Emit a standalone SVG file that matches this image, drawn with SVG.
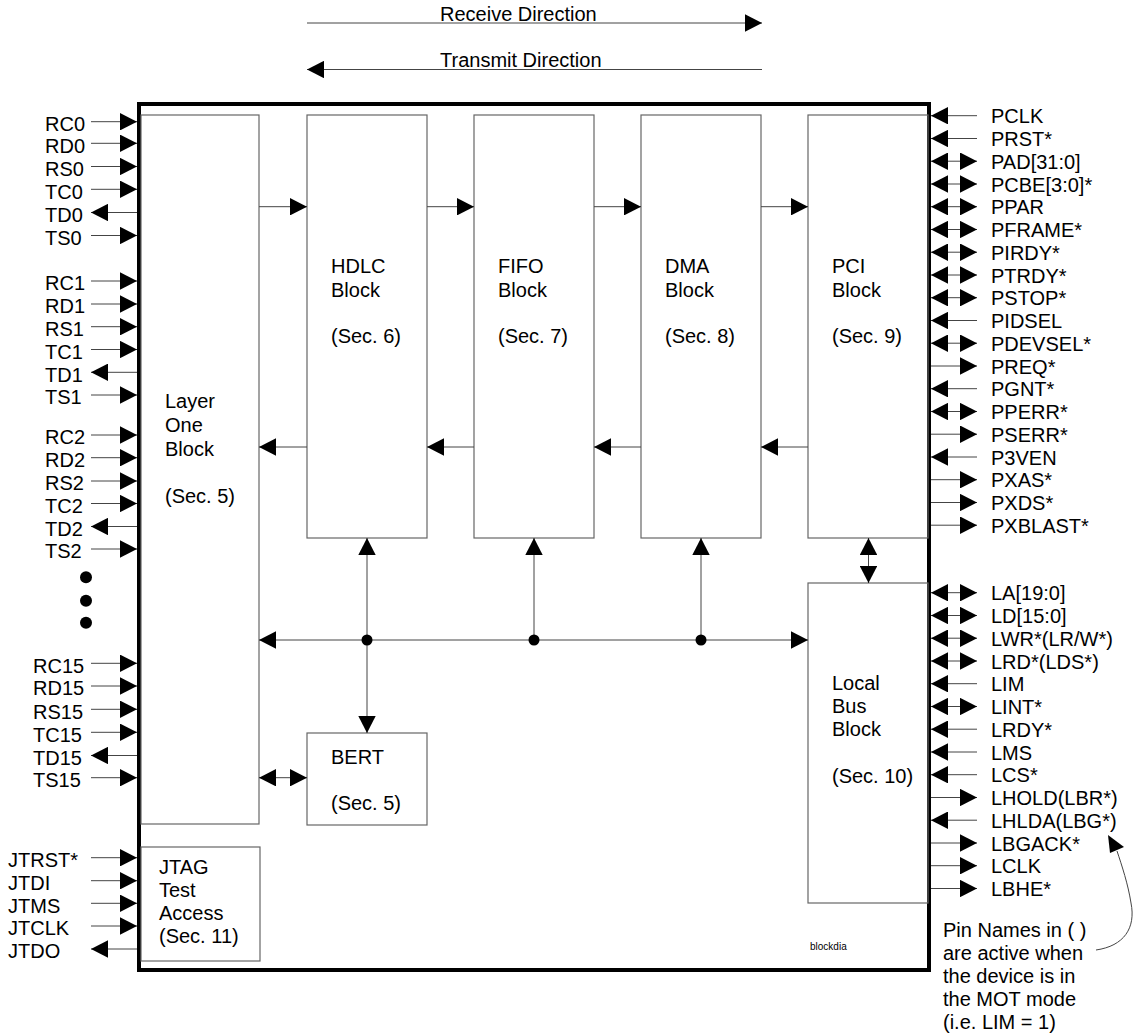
<svg xmlns="http://www.w3.org/2000/svg" width="1133" height="1034" viewBox="0 0 1133 1034">
<style>
.t{font-family:"Liberation Sans",Arial,Helvetica,sans-serif;font-size:20px;fill:#000}
.s{font-family:"Liberation Sans",Arial,sans-serif;font-size:10px;fill:#000}
.c{stroke:#444;stroke-width:1;fill:none}
.b{stroke:#666;stroke-width:1.2;fill:none}
.ma{marker-end:url(#a)}
.bi{marker-start:url(#a);marker-end:url(#a)}
</style>
<defs>
<marker id="a" markerUnits="userSpaceOnUse" markerWidth="17" markerHeight="17.4" refX="17" refY="8.7" orient="auto-start-reverse" viewBox="0 0 17 17.4"><path d="M0,0L17,8.7L0,17.4z" fill="#000"/></marker>
</defs>
<rect width="1133" height="1034" fill="#fff"/>

<g id="direction-legend">
<line class="c ma" x1="307" y1="23" x2="762" y2="23"/>
<text class="t" x="440" y="21">Receive Direction</text>
<line class="c ma" x1="762" y1="69.5" x2="307" y2="69.5"/>
<text class="t" x="440" y="67">Transmit Direction</text>
</g>

<g id="chip">
<rect x="139" y="104" width="790" height="866" fill="none" stroke="#000" stroke-width="4"/>
<text class="s" x="810" y="950">blockdia</text>
</g>

<g id="layer-one">
<rect class="b" x="141" y="115" width="118" height="709"/>
<text class="t" x="165" y="408">Layer</text>
<text class="t" x="165" y="432">One</text>
<text class="t" x="165" y="456">Block</text>
<text class="t" x="165" y="503">(Sec. 5)</text>
</g>
<g id="hdlc">
<rect class="b" x="307" y="115" width="120" height="423"/>
<text class="t" x="331" y="273">HDLC</text>
<text class="t" x="331" y="297">Block</text>
<text class="t" x="331" y="343">(Sec. 6)</text>
</g>
<g id="fifo">
<rect class="b" x="474" y="115" width="120" height="423"/>
<text class="t" x="498" y="273">FIFO</text>
<text class="t" x="498" y="297">Block</text>
<text class="t" x="498" y="343">(Sec. 7)</text>
</g>
<g id="dma">
<rect class="b" x="641" y="115" width="120" height="423"/>
<text class="t" x="665" y="273">DMA</text>
<text class="t" x="665" y="297">Block</text>
<text class="t" x="665" y="343">(Sec. 8)</text>
</g>
<g id="pci">
<rect class="b" x="808" y="115" width="120" height="423"/>
<text class="t" x="832" y="273">PCI</text>
<text class="t" x="832" y="297">Block</text>
<text class="t" x="832" y="343">(Sec. 9)</text>
</g>
<g id="local-bus">
<rect class="b" x="808" y="583" width="120" height="320"/>
<text class="t" x="832" y="690">Local</text>
<text class="t" x="832" y="713">Bus</text>
<text class="t" x="832" y="736">Block</text>
<text class="t" x="832" y="783">(Sec. 10)</text>
</g>
<g id="bert">
<rect class="b" x="307" y="733" width="120" height="92"/>
<text class="t" x="331" y="764">BERT</text>
<text class="t" x="331" y="810">(Sec. 5)</text>
</g>
<g id="jtag">
<rect class="b" x="141" y="847" width="119" height="114"/>
<text class="t" x="159" y="874">JTAG</text>
<text class="t" x="159" y="897">Test</text>
<text class="t" x="159" y="920">Access</text>
<text class="t" x="159" y="943">(Sec. 11)</text>
</g>

<g id="connectors">
<line class="c ma" x1="259" y1="206.7" x2="307" y2="206.7"/>
<line class="c ma" x1="427" y1="206.7" x2="474" y2="206.7"/>
<line class="c ma" x1="594" y1="206.7" x2="641" y2="206.7"/>
<line class="c ma" x1="761" y1="206.7" x2="808" y2="206.7"/>
<line class="c ma" x1="307" y1="447" x2="259" y2="447"/>
<line class="c ma" x1="474" y1="447" x2="427" y2="447"/>
<line class="c ma" x1="641" y1="447" x2="594" y2="447"/>
<line class="c ma" x1="808" y1="447" x2="761" y2="447"/>
<line class="c bi" x1="259" y1="640" x2="808" y2="640"/>
<line class="c bi" x1="367" y1="538" x2="367" y2="733"/>
<line class="c ma" x1="534" y1="640" x2="534" y2="538"/>
<line class="c ma" x1="701" y1="640" x2="701" y2="538"/>
<circle cx="367" cy="640" r="5.5"/>
<circle cx="534" cy="640" r="5.5"/>
<circle cx="701" cy="640" r="5.5"/>
<line class="c bi" x1="868.5" y1="538" x2="868.5" y2="583"/>
<line class="c bi" x1="259" y1="777.7" x2="307" y2="777.7"/>

<!-- left pins -->
<line class="c ma" x1="91" y1="121.7" x2="137" y2="121.7"/>
<line class="c ma" x1="91" y1="143.3" x2="137" y2="143.3"/>
<line class="c ma" x1="91" y1="166.5" x2="137" y2="166.5"/>
<line class="c ma" x1="91" y1="189.3" x2="137" y2="189.3"/>
<line class="c ma" x1="137" y1="212.5" x2="91" y2="212.5"/>
<line class="c ma" x1="91" y1="235.5" x2="137" y2="235.5"/>
<line class="c ma" x1="91" y1="281" x2="137" y2="281"/>
<line class="c ma" x1="91" y1="304" x2="137" y2="304"/>
<line class="c ma" x1="91" y1="326.7" x2="137" y2="326.7"/>
<line class="c ma" x1="91" y1="349.5" x2="137" y2="349.5"/>
<line class="c ma" x1="137" y1="372.3" x2="91" y2="372.3"/>
<line class="c ma" x1="91" y1="395" x2="137" y2="395"/>
<line class="c ma" x1="91" y1="435" x2="137" y2="435"/>
<line class="c ma" x1="91" y1="457.7" x2="137" y2="457.7"/>
<line class="c ma" x1="91" y1="481" x2="137" y2="481"/>
<line class="c ma" x1="91" y1="503.5" x2="137" y2="503.5"/>
<line class="c ma" x1="137" y1="526.5" x2="91" y2="526.5"/>
<line class="c ma" x1="91" y1="549" x2="137" y2="549"/>
<line class="c ma" x1="91" y1="663.3" x2="137" y2="663.3"/>
<line class="c ma" x1="91" y1="686" x2="137" y2="686"/>
<line class="c ma" x1="91" y1="709.3" x2="137" y2="709.3"/>
<line class="c ma" x1="91" y1="732.3" x2="137" y2="732.3"/>
<line class="c ma" x1="137" y1="755.5" x2="91" y2="755.5"/>
<line class="c ma" x1="91" y1="777.7" x2="137" y2="777.7"/>
<line class="c ma" x1="91" y1="857.7" x2="137" y2="857.7"/>
<line class="c ma" x1="91" y1="880.7" x2="137" y2="880.7"/>
<line class="c ma" x1="91" y1="903.3" x2="137" y2="903.3"/>
<line class="c ma" x1="91" y1="926" x2="137" y2="926"/>
<line class="c ma" x1="137" y1="949" x2="91" y2="949"/>

<!-- right pins -->
<line class="c ma" x1="977" y1="115.7" x2="931" y2="115.7"/>
<line class="c ma" x1="977" y1="138.5" x2="931" y2="138.5"/>
<line class="c bi" x1="931" y1="161.2" x2="977" y2="161.2"/>
<line class="c bi" x1="931" y1="184" x2="977" y2="184"/>
<line class="c bi" x1="931" y1="206.7" x2="977" y2="206.7"/>
<line class="c bi" x1="931" y1="229.5" x2="977" y2="229.5"/>
<line class="c bi" x1="931" y1="252.2" x2="977" y2="252.2"/>
<line class="c bi" x1="931" y1="275" x2="977" y2="275"/>
<line class="c bi" x1="931" y1="297.7" x2="977" y2="297.7"/>
<line class="c ma" x1="977" y1="320.5" x2="931" y2="320.5"/>
<line class="c bi" x1="931" y1="343.2" x2="977" y2="343.2"/>
<line class="c ma" x1="931" y1="366" x2="977" y2="366"/>
<line class="c ma" x1="977" y1="388.7" x2="931" y2="388.7"/>
<line class="c bi" x1="931" y1="411.5" x2="977" y2="411.5"/>
<line class="c ma" x1="931" y1="434.2" x2="977" y2="434.2"/>
<line class="c ma" x1="977" y1="457" x2="931" y2="457"/>
<line class="c ma" x1="931" y1="479.7" x2="977" y2="479.7"/>
<line class="c ma" x1="931" y1="502.5" x2="977" y2="502.5"/>
<line class="c ma" x1="931" y1="525.2" x2="977" y2="525.2"/>
<line class="c bi" x1="931" y1="592.7" x2="977" y2="592.7"/>
<line class="c bi" x1="931" y1="615.5" x2="977" y2="615.5"/>
<line class="c bi" x1="931" y1="638.2" x2="977" y2="638.2"/>
<line class="c bi" x1="931" y1="661" x2="977" y2="661"/>
<line class="c ma" x1="977" y1="683.7" x2="931" y2="683.7"/>
<line class="c bi" x1="931" y1="706.5" x2="977" y2="706.5"/>
<line class="c ma" x1="977" y1="729.2" x2="931" y2="729.2"/>
<line class="c ma" x1="977" y1="752" x2="931" y2="752"/>
<line class="c ma" x1="977" y1="774.7" x2="931" y2="774.7"/>
<line class="c ma" x1="931" y1="797.5" x2="977" y2="797.5"/>
<line class="c ma" x1="977" y1="820.2" x2="931" y2="820.2"/>
<line class="c ma" x1="931" y1="843" x2="977" y2="843"/>
<line class="c ma" x1="931" y1="865.7" x2="977" y2="865.7"/>
<line class="c ma" x1="931" y1="888.5" x2="977" y2="888.5"/>

<!-- note pointer -->
<path class="c" d="M1096,950 C1124,946 1136,928 1131,903 C1128,884 1122,866 1117,851"/>
<path d="M1108,835L1124,847L1110,853z" fill="#000"/>
</g>

<g id="ellipsis">
<circle cx="86" cy="577.3" r="6"/>
<circle cx="86" cy="600.7" r="6"/>
<circle cx="86" cy="622.7" r="6"/>
</g>

<g id="left-pin-labels" class="t">
<text x="45" y="131">RC0</text>
<text x="45" y="152.7">RD0</text>
<text x="45" y="175.9">RS0</text>
<text x="45" y="198.7">TC0</text>
<text x="45" y="221.9">TD0</text>
<text x="45" y="244.9">TS0</text>
<text x="45" y="290.4">RC1</text>
<text x="45" y="313.4">RD1</text>
<text x="45" y="336.1">RS1</text>
<text x="45" y="358.9">TC1</text>
<text x="45" y="381.7">TD1</text>
<text x="45" y="404.4">TS1</text>
<text x="45" y="444.4">RC2</text>
<text x="45" y="467.1">RD2</text>
<text x="45" y="490.4">RS2</text>
<text x="45" y="512.9">TC2</text>
<text x="45" y="535.9">TD2</text>
<text x="45" y="558.4">TS2</text>
<text x="33" y="672.7">RC15</text>
<text x="33" y="695.4">RD15</text>
<text x="33" y="718.7">RS15</text>
<text x="33" y="741.7">TC15</text>
<text x="33" y="764.9">TD15</text>
<text x="33" y="787.1">TS15</text>
<text x="8" y="867.1">JTRST*</text>
<text x="8" y="890.1">JTDI</text>
<text x="8" y="912.7">JTMS</text>
<text x="8" y="935.4">JTCLK</text>
<text x="8" y="958.4">JTDO</text>
</g>

<g id="right-pin-labels" class="t">
<text x="991" y="123.2">PCLK</text>
<text x="991" y="146">PRST*</text>
<text x="991" y="168.7">PAD[31:0]</text>
<text x="991" y="191.5">PCBE[3:0]*</text>
<text x="991" y="214.2">PPAR</text>
<text x="991" y="237">PFRAME*</text>
<text x="991" y="259.7">PIRDY*</text>
<text x="991" y="282.5">PTRDY*</text>
<text x="991" y="305.2">PSTOP*</text>
<text x="991" y="328">PIDSEL</text>
<text x="991" y="350.7">PDEVSEL*</text>
<text x="991" y="373.5">PREQ*</text>
<text x="991" y="396.2">PGNT*</text>
<text x="991" y="419">PPERR*</text>
<text x="991" y="441.7">PSERR*</text>
<text x="991" y="464.5">P3VEN</text>
<text x="991" y="487.2">PXAS*</text>
<text x="991" y="510">PXDS*</text>
<text x="991" y="532.7">PXBLAST*</text>
<text x="991" y="600.2">LA[19:0]</text>
<text x="991" y="623">LD[15:0]</text>
<text x="991" y="645.7">LWR*(LR/W*)</text>
<text x="991" y="668.5">LRD*(LDS*)</text>
<text x="991" y="691.2">LIM</text>
<text x="991" y="714">LINT*</text>
<text x="991" y="736.7">LRDY*</text>
<text x="991" y="759.5">LMS</text>
<text x="991" y="782.2">LCS*</text>
<text x="991" y="805">LHOLD(LBR*)</text>
<text x="991" y="827.7">LHLDA(LBG*)</text>
<text x="991" y="850.5">LBGACK*</text>
<text x="991" y="873.2">LCLK</text>
<text x="991" y="896">LBHE*</text>
</g>

<g id="note" class="t">
<text x="943" y="937">Pin Names in ( )</text>
<text x="943" y="960">are active when</text>
<text x="943" y="983">the device is in</text>
<text x="943" y="1006">the MOT mode</text>
<text x="943" y="1029">(i.e. LIM = 1)</text>
</g>
</svg>
